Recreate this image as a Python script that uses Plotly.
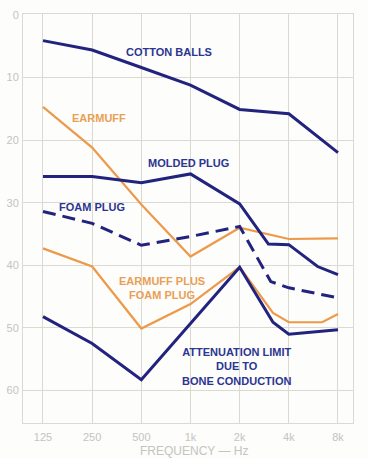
import plotly.graph_objects as go

freq_ticks = [125, 250, 500, 1000, 2000, 4000, 8000]
tick_labels = ["125", "250", "500", "1k", "2k", "4k", "8k"]

cotton_f = [125, 250, 500, 1000, 2000, 4000, 8000]
cotton_v = [4.1, 5.6, 8.4, 11.2, 15.1, 15.8, 22.0]

earmuff_f = [125, 250, 500, 1000, 2000, 4000, 8000]
earmuff_v = [14.7, 21.2, 30.3, 38.6, 34.0, 35.8, 35.7]

molded_f = [125, 250, 500, 1000, 2000, 3000, 4000, 6000, 8000]
molded_v = [25.8, 25.8, 26.8, 25.4, 30.2, 36.6, 36.7, 40.2, 41.5]

foam_f = [125, 250, 500, 1000, 2000, 3100, 4000, 8000]
foam_v = [31.4, 33.3, 36.8, 35.4, 33.8, 42.6, 43.6, 45.2]

combo_f = [125, 250, 500, 1000, 2000, 3200, 4000, 6400, 8000]
combo_v = [37.3, 40.2, 50.1, 46.2, 40.3, 47.6, 49.1, 49.1, 47.8]

bone_f = [125, 250, 500, 1000, 2000, 3200, 4000, 8000]
bone_v = [48.2, 52.5, 58.3, 49.3, 40.3, 49.1, 51.0, 50.3]

BLUE = "#22237e"
ORANGE = "#ec9a4a"
TXT_BLUE = "#2b3592"
TXT_OR = "#e9a055"
GRID = "#dcd9d0"
LABEL = "#c4c4c0"

fig = go.Figure()

def add(f, v, color, width, dash="solid"):
    fig.add_trace(go.Scatter(x=f, y=v, mode="lines",
                             line=dict(color=color, width=width, dash=dash),
                             showlegend=False, hoverinfo="skip"))

add(earmuff_f, earmuff_v, ORANGE, 2.2)
add(combo_f, combo_v, ORANGE, 2.2)
add(cotton_f, cotton_v, BLUE, 3)
add(molded_f, molded_v, BLUE, 3)
add(foam_f, foam_v, BLUE, 3, "13px,7px")
add(bone_f, bone_v, BLUE, 3)

W, H = 368, 458
L, R, T, B = 23, 15, 14, 35
pw, ph = W - L - R, H - T - B

def px(x, y):
    return (x - L) / pw, (H - B - y) / ph

labels = [
    ("COTTON BALLS", 169, 52, TXT_BLUE),
    ("EARMUFF", 99, 118, TXT_OR),
    ("MOLDED PLUG", 188, 163, TXT_BLUE),
    ("FOAM PLUG", 92, 207, TXT_BLUE),
    ("EARMUFF PLUS<br>FOAM PLUG", 162, 288, TXT_OR),
    ("ATTENUATION LIMIT<br>DUE TO<br>BONE CONDUCTION", 236, 366, TXT_BLUE),
]
for text, x, y, c in labels:
    ax, ay = px(x, y)
    fig.add_annotation(text="<b>" + text.replace("<br>", "</b><br><b>") + "</b>",
                       x=ax, y=ay, xref="paper", yref="paper",
                       showarrow=False, xanchor="center", yanchor="middle",
                       font=dict(family="Liberation Sans", size=11, color=c),
                       align="center")

tx, ty = px(194, 451)
fig.add_annotation(text="FREQUENCY — Hz", x=tx, y=ty, xref="paper", yref="paper",
                   showarrow=False, xanchor="center", yanchor="middle",
                   font=dict(family="Liberation Sans", size=12, color=LABEL))

fig.update_layout(
    width=W, height=H,
    margin=dict(l=L, r=R, t=T, b=B, autoexpand=False),
    paper_bgcolor="#fdfdfb", plot_bgcolor="#fdfdfb",
    font=dict(family="Liberation Sans", size=11, color=LABEL),
)
fig.update_xaxes(type="log", range=[1.9745, 3.995], automargin=False,
                 tickvals=freq_ticks, ticktext=tick_labels,
                 showgrid=True, gridcolor=GRID, gridwidth=1,
                 showline=True, linecolor=GRID, mirror=True,
                 zeroline=False, ticks="", ticklabelstandoff=4,
                 tickfont=dict(size=11, color=LABEL))
fig.update_yaxes(range=[65.2, -0.15], automargin=False,
                 tickvals=[0, 10, 20, 30, 40, 50, 60],
                 showgrid=True, gridcolor=GRID, gridwidth=1,
                 showline=True, linecolor=GRID, mirror=True,
                 zeroline=False, ticks="", ticklabelstandoff=1,
                 tickfont=dict(size=11, color=LABEL))

fig.write_html("out.html", config={"displayModeBar": False},
               post_script="document.body.style.margin='0';document.body.style.background='#fdfdfb';")
